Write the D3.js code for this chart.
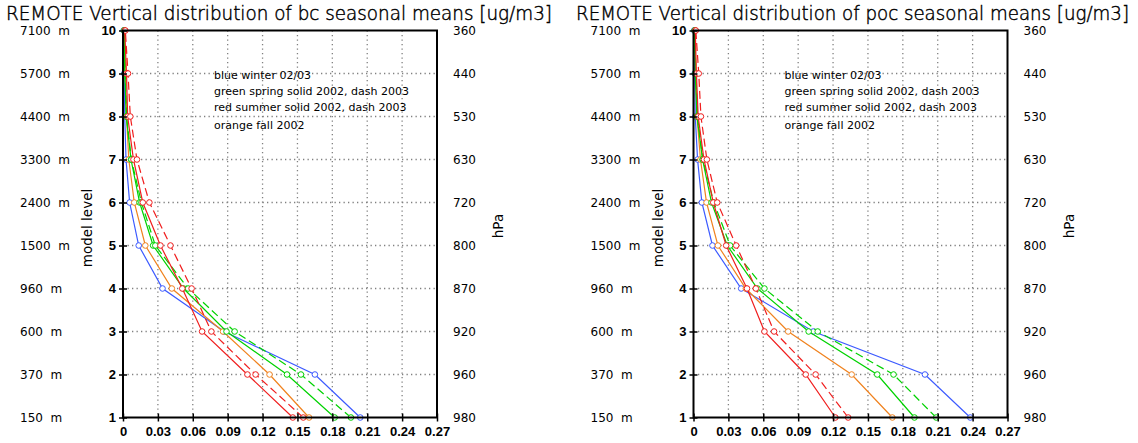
<!DOCTYPE html>
<html>
<head>
<meta charset="utf-8">
<script src="https://cdn.jsdelivr.net/npm/d3@7"></script>
<style>
  body { margin: 0; background: #fff; }
  text { font-family: "DejaVu Sans", sans-serif; }
</style>
</head>
<body>
<div id="chart"></div>
<script>
// model levels, heights and pressures
const levels = [1, 2, 3, 4, 5, 6, 7, 8, 9, 10];
const heights = ["150", "370", "600", "960", "1500", "2400", "3300", "4400", "5700", "7100"];
const pressures = ["980", "960", "920", "870", "800", "720", "630", "530", "440", "360"];
const xTicks = [0, 0.03, 0.06, 0.09, 0.12, 0.15, 0.18, 0.21, 0.24, 0.27];
const legendLines = ["blue winter 02/03", "green spring solid 2002, dash 2003",
  "red summer solid 2002, dash 2003", "orange fall 2002"];

// bc, level 1 .. 10
const bcWinter   = [0.204, 0.165, 0.087, 0.034, 0.0135, 0.0057, 0.0026, 0.0015, 0.001, 0.0005];
const bcFall02   = [0.160, 0.126, 0.086, 0.042, 0.0192, 0.0097, 0.005, 0.003, 0.002, 0.001];
const bcSpring02 = [0.182, 0.141, 0.089, 0.052, 0.0259, 0.0143, 0.0069, 0.0028, 0.0015, 0.001];
const bcSpring03 = [0.196, 0.153, 0.096, 0.056, 0.0278, 0.0158, 0.0072, 0.003, 0.002, 0.001];
const bcSummer02 = [0.146, 0.107, 0.068, 0.051, 0.0322, 0.017, 0.009, 0.004, 0.003, 0.0015];
const bcSummer03 = [0.155, 0.114, 0.076, 0.059, 0.0408, 0.0227, 0.012, 0.0063, 0.0043, 0.002];

// poc, level 1 .. 10
const pocWinter   = [0.238, 0.199, 0.103, 0.041, 0.0163, 0.0072, 0.0035, 0.0015, 0.001, 0.0005];
const pocFall02   = [0.171, 0.136, 0.0814, 0.045, 0.021, 0.0112, 0.006, 0.003, 0.002, 0.001];
const pocSpring02 = [0.190, 0.158, 0.099, 0.055, 0.029, 0.0155, 0.0078, 0.003, 0.0015, 0.001];
const pocSpring03 = [0.2087, 0.172, 0.1068, 0.061, 0.0315, 0.0175, 0.008, 0.0035, 0.002, 0.001];
const pocSummer02 = [0.122, 0.0965, 0.061, 0.046, 0.0281, 0.017, 0.009, 0.004, 0.0025, 0.0015];
const pocSummer03 = [0.133, 0.105, 0.0693, 0.0536, 0.0367, 0.0204, 0.0115, 0.0064, 0.0045, 0.002];

const blue = "#3c5aff", green = "#00d200", red = "#f01e1e", orange = "#f0821e";

function seriesOf(w, f, s2, s3, u2, u3) {
  return [
    { values: w,  color: blue,   dash: null },
    { values: f,  color: orange, dash: null },
    { values: s2, color: green,  dash: null },
    { values: s3, color: green,  dash: "8,4" },
    { values: u2, color: red,    dash: null },
    { values: u3, color: red,    dash: "8,4" }
  ];
}

const panels = [
  { left: 123, titleX: 6, titleW: 546,
    title: "REMOTE Vertical distribution of bc seasonal means [ug/m3]",
    series: seriesOf(bcWinter, bcFall02, bcSpring02, bcSpring03, bcSummer02, bcSummer03) },
  { left: 693.5, titleX: 576, titleW: 553,
    title: "REMOTE Vertical distribution of poc seasonal means [ug/m3]",
    series: seriesOf(pocWinter, pocFall02, pocSpring02, pocSpring03, pocSummer02, pocSummer03) }
];

const svg = d3.select("#chart").append("svg")
  .attr("width", 1138)
  .attr("height", 443);

const plotTop = 30.5, plotBottom = 417.5, plotW = 314;

panels.forEach(p => {
  const x = d3.scaleLinear().domain([0, 0.27]).range([p.left, p.left + plotW]);
  const y = d3.scaleLinear().domain([1, 10]).range([plotBottom, plotTop]);
  const g = svg.append("g");

  // title (thin font, darkened with a hairline stroke)
  g.append("text")
    .attr("x", p.titleX).attr("y", 20)
    .attr("textLength", p.titleW).attr("lengthAdjust", "spacingAndGlyphs")
    .style("font-size", "19px").style("font-weight", 200)
    .attr("fill", "#000").attr("stroke", "#000").attr("stroke-width", 0.45)
    .text(p.title);

  // dotted grid
  g.selectAll(".vgrid").data(xTicks.slice(1, -1)).enter().append("line")
    .attr("x1", d => x(d)).attr("x2", d => x(d))
    .attr("y1", plotTop).attr("y2", plotBottom)
    .attr("stroke", "#808080").attr("stroke-width", 1.3)
    .attr("stroke-dasharray", "1.3,3.2");
  g.selectAll(".hgrid").data(levels.slice(1, -1)).enter().append("line")
    .attr("x1", p.left).attr("x2", p.left + plotW)
    .attr("y1", d => y(d)).attr("y2", d => y(d))
    .attr("stroke", "#808080").attr("stroke-width", 1.3)
    .attr("stroke-dasharray", "1.3,3.2");

  // legend text
  g.selectAll(".leg").data(legendLines).enter().append("text")
    .attr("x", p.left + 91)
    .attr("y", (d, i) => [79, 95, 111, 129][i])
    .style("font-size", "11px")
    .text(d => d);

  // lines and markers
  const line = d3.line().x(d => x(d.v)).y(d => y(d.l));
  p.series.forEach(s => {
    const pts = s.values.map((v, i) => ({ v: v, l: levels[i] }));
    g.append("path")
      .datum(pts)
      .attr("fill", "none")
      .attr("stroke", s.color)
      .attr("stroke-width", 1.2)
      .attr("stroke-dasharray", s.dash)
      .attr("d", line);
    g.selectAll(null).data(pts).enter().append("circle")
      .attr("cx", d => x(d.v)).attr("cy", d => y(d.l))
      .attr("r", 2.8)
      .attr("fill", "#fff")
      .attr("stroke", s.color)
      .attr("stroke-width", 1);
  });

  // frame
  g.append("rect")
    .attr("x", p.left).attr("y", plotTop)
    .attr("width", plotW).attr("height", plotBottom - plotTop)
    .attr("fill", "none").attr("stroke", "#000").attr("stroke-width", 2);

  // y axis (model level)
  const yAxis = g.append("g")
    .attr("transform", `translate(${p.left},0)`)
    .call(d3.axisLeft(y).tickValues(levels).tickSize(4).tickFormat(d3.format("d")));
  yAxis.select(".domain").remove();
  yAxis.selectAll("line").attr("stroke-width", 1.5).attr("x2", -4).attr("x1", 4);
  yAxis.selectAll("text")
    .attr("x", -7)
    .style("font-size", "13px").style("font-weight", "bold")
    .style("font-family", "'Liberation Sans', Arial, sans-serif");

  // x axis
  const xAxis = g.append("g")
    .attr("transform", `translate(0,${plotBottom})`)
    .call(d3.axisBottom(x).tickValues(xTicks).tickSize(4)
      .tickFormat(d => d === 0 ? "0" : d3.format(".2f")(d)));
  xAxis.select(".domain").remove();
  xAxis.selectAll("line").attr("stroke-width", 1.5).attr("y1", -4).attr("y2", 4);
  xAxis.selectAll("text")
    .attr("y", 9)
    .style("font-size", "13px").style("font-weight", "bold")
    .style("font-family", "'Liberation Sans', Arial, sans-serif");

  // heights on the left
  g.selectAll(".hgt").data(heights).enter().append("text")
    .attr("x", p.left - 103)
    .attr("y", (d, i) => y(levels[i]) + 4.5)
    .style("font-size", "12px")
    .attr("xml:space", "preserve")
    .text(d => d + "  m");

  // pressures on the right
  g.selectAll(".prs").data(pressures).enter().append("text")
    .attr("x", p.left + plotW + 16)
    .attr("y", (d, i) => y(levels[i]) + 4.5)
    .style("font-size", "12px")
    .text(d => d);

  // axis titles
  g.append("text")
    .attr("transform", `translate(${p.left - 31},228) rotate(-90)`)
    .attr("text-anchor", "middle")
    .style("font-size", "13.5px")
    .text("model level");
  g.append("text")
    .attr("transform", `translate(${p.left + plotW + 66},226) rotate(-90)`)
    .attr("text-anchor", "middle")
    .style("font-size", "13.5px")
    .text("hPa");
});
</script>
</body>
</html>
